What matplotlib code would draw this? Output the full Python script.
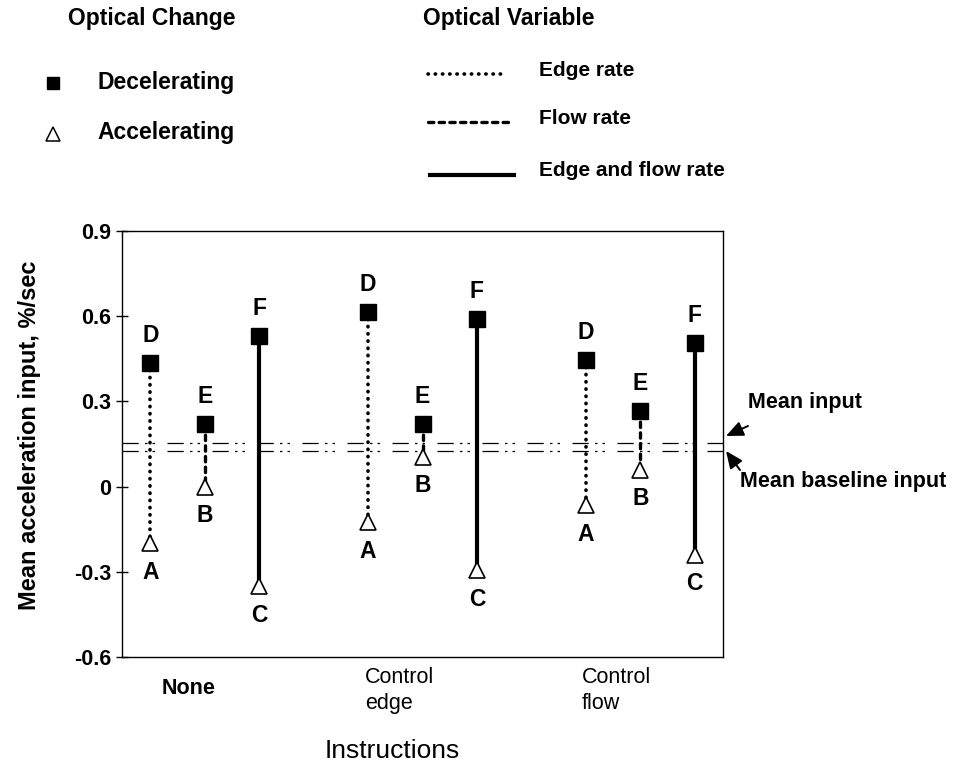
import matplotlib
matplotlib.use("Agg")
import matplotlib.pyplot as plt
import matplotlib.transforms as mtransforms
from matplotlib.lines import Line2D

plt.rcParams['font.family'] = ['Liberation Sans', 'DejaVu Sans']

# data
instructions = ['None', 'Control\nedge', 'Control\nflow']
variables = ['Edge rate', 'Flow rate', 'Edge and flow rate']
decel_labels = ['D', 'E', 'F']
accel_labels = ['A', 'B', 'C']
decel = [[0.435, 0.22, 0.53],
         [0.615, 0.22, 0.59],
         [0.445, 0.265, 0.505]]
accel = [[-0.20, 0.0, -0.35],
         [-0.125, 0.105, -0.295],
         [-0.065, 0.06, -0.24]]
mean_input = 0.152
mean_baseline = 0.127
yticks = [-0.6, -0.3, 0, 0.3, 0.6, 0.9]
ytick_labels = ['-0.6', '-0.3', '0', '0.3', '0.6', '0.9']

W, H = 955, 773
fig = plt.figure(figsize=(W / 100, H / 100), dpi=100)


def fx(x):
    return x / W


def fy(y):
    return 1 - y / H


ax = fig.add_axes([fx(122), fy(657), fx(723) - fx(122), fy(231) - fy(657)])

styles = [dict(ls=(0, (0.1, 1.9)), lw=2.6, dash_capstyle='round'),
          dict(ls=(0, (1.6, 1.6)), lw=2.4, dash_capstyle='round'),
          dict(ls='-', lw=3.0)]

for g in range(3):
    for v in range(3):
        x = g * 4 + v
        hi, lo = decel[g][v], accel[g][v]
        ax.plot([x, x], [hi, lo], color='black', zorder=2, **styles[v])
        ax.plot(x, hi, 's', ms=11, color='black', zorder=3)
        ax.plot(x, lo, '^', ms=11, mfc='white', mec='black', mew=1.2, zorder=3)
        ax.annotate(decel_labels[v], (x, hi), xytext=(0, 20), textcoords='offset points',
                    ha='center', va='center', fontsize=16.5, fontweight='bold')
        ax.annotate(accel_labels[v], (x, lo), xytext=(0, -21), textcoords='offset points',
                    ha='center', va='center', fontsize=16.5, fontweight='bold')

# mean lines
mean_ls = (0, (13, 5, 2, 4, 2, 10))
ax.axhline(mean_input, color='black', lw=0.9, ls=mean_ls, zorder=1)
ax.axhline(mean_baseline, color='black', lw=0.9, ls=mean_ls, zorder=1)

ax.set_xlim(-0.52, 10.52)
ax.set_ylim(-0.6, 0.9)
ax.set_xticks([])
ax.set_yticks(yticks)
ax.set_yticklabels(ytick_labels, fontsize=15.5, fontweight='bold')
ax.tick_params(axis='y', direction='inout', length=9, width=1, pad=3)
for s in ax.spines.values():
    s.set_linewidth(1.0)

fig.text(fx(30), fy(435), 'Mean acceleration input, %/sec', rotation=90,
         ha='center', va='center', fontsize=17, fontweight='bold')

# category labels under the axis
trans = mtransforms.blended_transform_factory(ax.transData, fig.transFigure)
ax.text(0.7, fy(688), instructions[0], transform=trans, ha='center', va='center',
        fontsize=15.5, fontweight='bold')
ax.text(3.95, fy(667), instructions[1], transform=trans, ha='left', va='top',
        fontsize=15.5, linespacing=1.3)
ax.text(7.92, fy(667), instructions[2], transform=trans, ha='left', va='top',
        fontsize=15.5, linespacing=1.3)
fig.text(fx(392), fy(751), 'Instructions', ha='center', va='center', fontsize=19)

# mean line labels with short arrowheads
fig.text(fx(748), fy(402), 'Mean input', ha='left', va='center', fontsize=15.5, fontweight='bold')
fig.text(fx(740), fy(481), 'Mean baseline input', ha='left', va='center',
         fontsize=15.5, fontweight='bold')
arrow = dict(arrowstyle='-|>,head_length=0.8,head_width=0.35', color='black', lw=1.4,
             shrinkA=0, shrinkB=0, mutation_scale=13)
fig.add_artist(plt.Annotation('', xy=(fx(726), fy(436)), xycoords='figure fraction',
                              xytext=(fx(748), fy(426)), textcoords='figure fraction',
                              arrowprops=arrow))
fig.add_artist(plt.Annotation('', xy=(fx(726), fy(451)), xycoords='figure fraction',
                              xytext=(fx(740), fy(470)), textcoords='figure fraction',
                              arrowprops=arrow))

# legend block at top
fig.text(fx(68), fy(18), 'Optical Change', ha='left', va='center', fontsize=16.5, fontweight='bold')
fig.text(fx(423), fy(18), 'Optical Variable', ha='left', va='center', fontsize=16.5, fontweight='bold')
fig.add_artist(Line2D([fx(53)], [fy(83)], marker='s', ms=9, color='black', ls='none',
                      transform=fig.transFigure))
fig.add_artist(Line2D([fx(53)], [fy(134)], marker='^', ms=10, mfc='white', mec='black',
                      mew=1.1, ls='none', transform=fig.transFigure))
fig.text(fx(97), fy(83), 'Decelerating', ha='left', va='center', fontsize=16.5, fontweight='bold')
fig.text(fx(97), fy(132), 'Accelerating', ha='left', va='center', fontsize=16.5, fontweight='bold')

leg_y = [74, 122, 175]
leg_x = [(428, 506), (428, 513), (430, 514)]
for i in range(3):
    fig.add_artist(Line2D([fx(leg_x[i][0]), fx(leg_x[i][1])], [fy(leg_y[i]), fy(leg_y[i])],
                          color='black', transform=fig.transFigure, **styles[i]))
    fig.text(fx(539), fy(leg_y[i] - 4), variables[i], ha='left', va='center',
             fontsize=15, fontweight='bold')

fig.savefig('out.png', dpi=100)
